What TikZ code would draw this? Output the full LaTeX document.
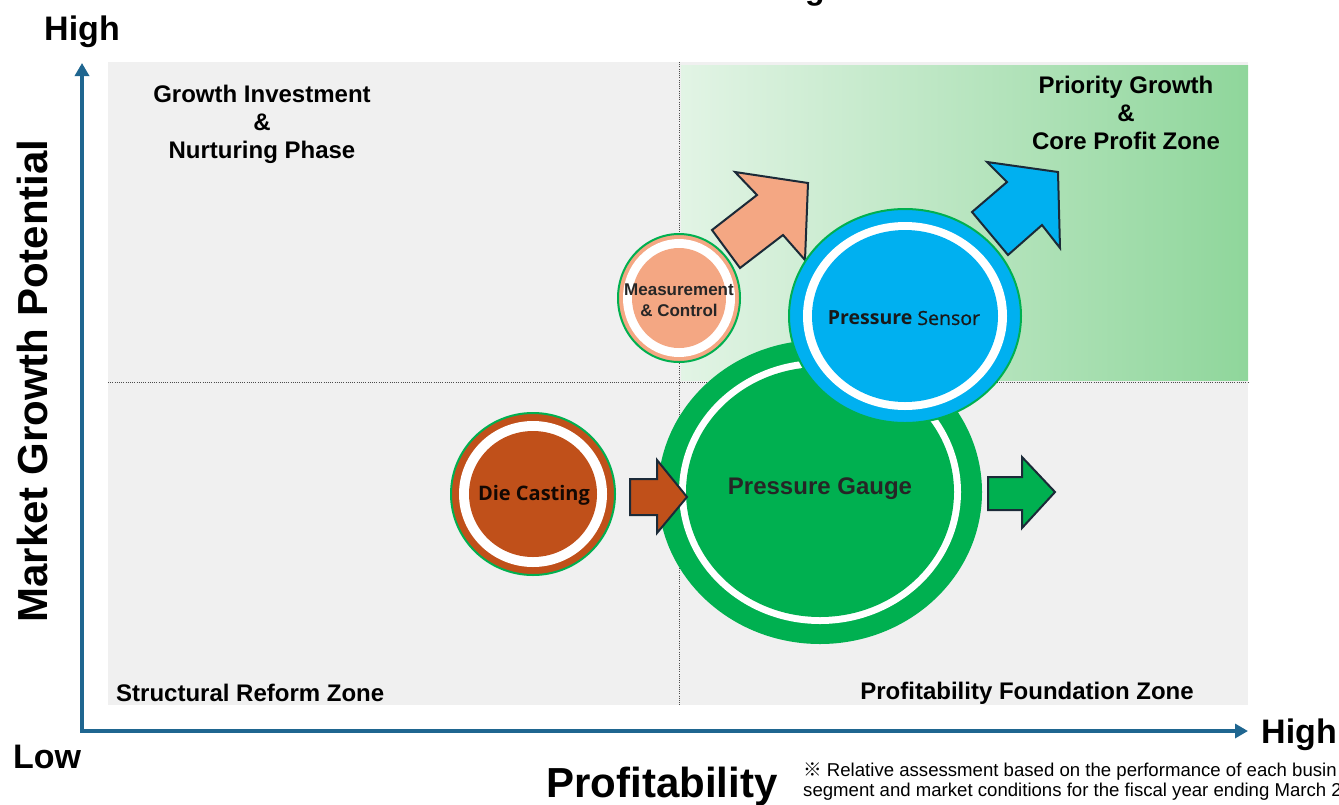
\documentclass[tikz,border=0pt]{standalone}
\usepackage{fontspec}
\setmainfont{Liberation Sans}
\newfontfamily\notof{Open Sans}
\newfontfamily\cjkf{Noto Sans CJK JP}
\usetikzlibrary{arrows.meta}
\definecolor{bgrey}{HTML}{F0F0F0}
\definecolor{axisblue}{HTML}{1F6690}
\definecolor{pgreen}{HTML}{00B050}
\definecolor{pblue}{HTML}{00B0F0}
\definecolor{psalmon}{HTML}{F4A783}
\definecolor{pbrown}{HTML}{C0501A}
\definecolor{outl}{HTML}{1B2A38}
\definecolor{gleft}{HTML}{E2F4E5}
\definecolor{gright}{HTML}{8FD69B}
\tikzset{
  fs/.style={font=\fontsize{#1}{#1}\selectfont},
  bfs/.style={font=\bfseries\fontsize{#1}{#1}\selectfont},
  zonelabel/.style={font=\bfseries\fontsize{24}{28}\selectfont, align=center, inner sep=0pt},
  quadline/.style={draw=black!70, line width=0.8pt, dash pattern=on 1pt off 1.2pt},
  blockarrow/.style={draw=outl, line width=2pt, line join=miter},
  axisline/.style={draw=axisblue, line width=4pt, line join=miter,
    {Triangle[length=13pt,width=14pt]}-{Triangle[length=13pt,width=14pt]}},
  ringline/.style={draw=pgreen, line width=2pt},
}
\begin{document}
\begin{tikzpicture}[x=1pt,y=-1pt]
\useasboundingbox (0,0) rectangle (1339,804);
% background zones
\fill[bgrey] (108,62) rectangle (1248,705);
\shade[left color=gleft, right color=gright] (681,65) rectangle (1248,380);
\draw[quadline] (679,62) -- (679,705);
\draw[quadline] (108,382) -- (1248,382);
% cut-off title
\node[bfs=32, anchor=base, inner sep=0pt] (title) at (815,-1) {g};
% axes
\coordinate (ytip) at (82,63);
\coordinate (origin) at (82,731);
\coordinate (xtip) at (1248,731);
\draw[axisline] (ytip) -- (origin) -- (xtip);
\node[bfs=34, anchor=base, inner sep=0pt] (hightop) at (82,40) {High};
\node[bfs=34, anchor=base, inner sep=0pt] (highright) at (1299,743) {High};
\node[bfs=34, anchor=base, inner sep=0pt] (low) at (47,768) {Low};
\node[bfs=42, rotate=90, inner sep=0pt] (ylabel) at (32,381) {Market Growth Potential};
\node[bfs=42, anchor=base, inner sep=0pt] (xlabel) at (662,797) {Profitability};
\node[fs=18.6, anchor=base west, inner sep=0pt] (note1) at (803,776) {{\cjkf ※} Relative assessment based on the performance of each busin};
\node[fs=18.6, anchor=base west, inner sep=0pt] (note2) at (803,796) {segment and market conditions for the fiscal year ending March 2};
% zone labels
\node[zonelabel] (zoneTL) at (262,124) {Growth Investment\\\&\\Nurturing Phase};
\node[zonelabel] (zoneTR) at (1126,113) {Priority Growth\\\&\\Core Profit Zone};
\node[zonelabel, anchor=base west] (zoneBL) at (116,701) {Structural Reform Zone};
\node[zonelabel, anchor=base] (zoneBR) at (1027,699) {Profitability Foundation Zone};
% Die Casting
\fill[pbrown] (533,494) ellipse [x radius=82, y radius=81];
\fill[white] (533,494) ellipse [x radius=74, y radius=73];
\fill[pbrown] (533,494) ellipse [x radius=64, y radius=63];
\draw[ringline] (533,494) ellipse [x radius=82, y radius=81];
\node[font=\notof\bfseries\fontsize{20}{22}\selectfont, text=black!90!pbrown, inner sep=0pt] (die) at (534,495) {Die Casting};
% Measurement & Control
\fill[psalmon] (679,298) ellipse [x radius=61, y radius=64];
\fill[white] (679,298) ellipse [x radius=56, y radius=59];
\fill[psalmon] (679,298) ellipse [x radius=47, y radius=50];
\draw[ringline] (679,298) ellipse [x radius=61, y radius=64];
\node[font=\bfseries\fontsize{17}{21}\selectfont, align=center, inner sep=0pt, text=black!85] (meas) at (679,300) {Measurement\\\& Control};
% salmon arrow
\draw[blockarrow, fill=psalmon] (712,230) -- (757,195) -- (735,172) -- (808,183) -- (805,260) -- (783,235) -- (740,268) -- cycle;
% Pressure Gauge
\fill[pgreen] (820,492) ellipse [x radius=162, y radius=152];
\fill[white] (820,492) ellipse [x radius=141, y radius=132];
\fill[pgreen] (820,492) ellipse [x radius=134, y radius=125];
\node[bfs=24, inner sep=0pt, text=black!85] (gauge) at (820,489) {Pressure Gauge};
% brown arrow
\draw[blockarrow, fill=pbrown] (630,479) -- (657,479) -- (657,460) -- (687,497) -- (657,533) -- (657,515) -- (630,515) -- cycle;
% green arrow
\draw[blockarrow, fill=pgreen] (988,477) -- (1022,477) -- (1022,457) -- (1055,492) -- (1022,528) -- (1022,510) -- (988,510) -- cycle;
% Pressure Sensor
\fill[pblue] (905,316) ellipse [x radius=116, y radius=107];
\fill[white] (905,316) ellipse [x radius=102, y radius=94];
\fill[pblue] (905,316) ellipse [x radius=93, y radius=86];
\draw[ringline] (905,316) ellipse [x radius=116, y radius=107];
\node[font=\notof\fontsize{19.5}{22}\selectfont, text=black!90, inner sep=0pt] (sensor) at (904,318) {\bfseries Pressure \mdseries\addfontfeature{FakeBold=0.6}Sensor};
% blue arrow
\draw[blockarrow, fill=pblue] (972,212) -- (1007,182) -- (987,162) -- (1058,172) -- (1060,248) -- (1042,225) -- (1008,255) -- cycle;
\end{tikzpicture}
\end{document}
